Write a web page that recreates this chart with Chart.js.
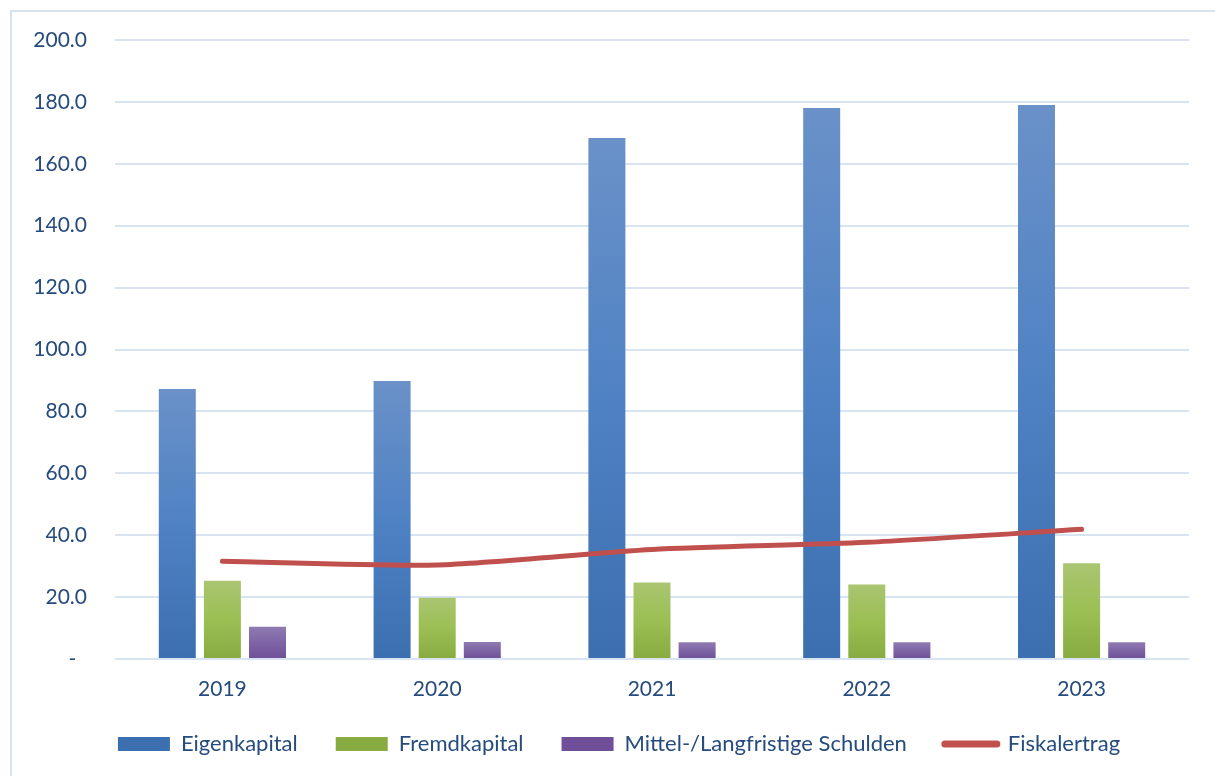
<!DOCTYPE html>
<html>
<head>
<meta charset="utf-8">
<script src="https://cdn.jsdelivr.net/npm/chart.js@4"></script>
<style>
    html, body { margin: 0; padding: 0; background: #fff; overflow: hidden; }
    .frame {
        position: absolute; left: 10px; top: 10px;
        width: 1203px; height: 764px;
        border-left: 2px solid #d6e2f2; border-top: 2px solid #d6e2f2;
    }
</style>
</head>
<body>
<div class="frame"><canvas id="chart" width="1203" height="764"></canvas></div>
<script>
    // chart values
    const years = ['2019', '2020', '2021', '2022', '2023'];
    const eigenkapital = [87.2, 89.8, 168.3, 178.0, 179.0];
    const fremdkapital = [25.3, 19.8, 24.7, 24.1, 30.9];
    const schulden = [10.4, 5.5, 5.4, 5.4, 5.4];
    const fiskalertrag = [31.6, 30.4, 35.4, 37.7, 41.9];

    const textColor = '#264b7d';
    const gridColor = '#d9e4f3';
    const fontFamily = 'Lato, "Open Sans", sans-serif';

    // each bar gets its own light-to-dark gradient, like the Excel original
    function barGradient(stops, flat) {
        return function (ctx) {
            const chart = ctx.chart;
            const y = chart.scales.y;
            if (!chart.chartArea || !y || ctx.type !== 'data') return flat;
            const top = y.getPixelForValue(ctx.raw);
            const bottom = y.getPixelForValue(0);
            if (!isFinite(top) || top === bottom) return flat;
            const g = chart.ctx.createLinearGradient(0, top, 0, bottom);
            g.addColorStop(0, stops[0]);
            g.addColorStop(0.5, stops[1]);
            g.addColorStop(1, stops[2]);
            return g;
        };
    }

    // axes are kept tight so the legend sits where it should; let the labels draw past them
    const unclipLabels = {
        id: 'unclipLabels',
        afterLayout: function (chart) {
            const x = chart.scales.x;
            x.bottom = x.top + 60;
            chart.scales.y.left = 0;
        }
    };

    const ctx = document.getElementById('chart').getContext('2d');
    const chart = new Chart(ctx, {
        type: 'bar',
        data: {
            labels: years,
            datasets: [{
                label: 'Eigenkapital',
                data: eigenkapital,
                backgroundColor: barGradient(['#6a91c8', '#4f82c4', '#3b6fb0'], '#4f7fc0'),
                pointStyle: 'rect',
                order: 1
            }, {
                label: 'Fremdkapital',
                data: fremdkapital,
                backgroundColor: barGradient(['#aac571', '#9bbf53', '#88ab41'], '#9bbf53'),
                pointStyle: 'rect',
                order: 1
            }, {
                label: 'Mittel-/Langfristige Schulden',
                data: schulden,
                backgroundColor: barGradient(['#8f7bb1', '#7e64a6', '#6f4f97'], '#7f65a6'),
                pointStyle: 'rect',
                order: 1
            }, {
                type: 'line',
                label: 'Fiskalertrag',
                data: fiskalertrag,
                borderColor: '#c0504d',
                backgroundColor: '#c0504d',
                borderWidth: 5,
                borderCapStyle: 'round',
                tension: 0.25,
                pointRadius: 0,
                pointHoverRadius: 0,
                pointStyle: 'line',
                order: 0
            }]
        },
        options: {
            responsive: false,
            animation: false,
            categoryPercentage: 0.63,
            barPercentage: 0.82,
            layout: { padding: { left: 37, right: 26, top: 28, bottom: 11 } },
            plugins: {
                tooltip: { enabled: false },
                legend: {
                    position: 'bottom',
                    labels: {
                        color: textColor,
                        font: { family: fontFamily, size: 22 },
                        usePointStyle: true,
                        pointStyleWidth: 52,
                        boxHeight: 14,
                        padding: 38,
                        sort: (a, b) => a.datasetIndex - b.datasetIndex,
                        generateLabels: function (chart) {
                            const items = Chart.defaults.plugins.legend.labels.generateLabels(chart);
                            items.forEach(function (item) {
                                if (item.datasetIndex === 3) {
                                    item.lineWidth = 7;
                                    item.lineCap = 'round';
                                } else {
                                    item.lineWidth = 0;
                                }
                            });
                            return items;
                        }
                    }
                }
            },
            scales: {
                x: {
                    grid: { display: false, drawTicks: false },
                    border: { display: false },
                    ticks: {
                        color: textColor,
                        font: { family: fontFamily, size: 21 },
                        padding: 18
                    },
                    afterFit: function (scale) { scale.height = 36; }
                },
                y: {
                    min: 0,
                    max: 200,
                    grid: { color: gridColor, lineWidth: 2, drawTicks: false },
                    border: { display: false },
                    ticks: {
                        stepSize: 20,
                        color: textColor,
                        font: { family: fontFamily, size: 21 },
                        padding: 28,
                        callback: function (value) {
                            return value === 0 ? '-  ' : value.toFixed(1);
                        }
                    },
                    afterFit: function (scale) {
                        // keep the tick padding from pushing the plot area down
                        scale.width = 66;
                        scale.paddingTop = 0;
                        scale.paddingBottom = 0;
                    }
                }
            }
        },
        plugins: [unclipLabels]
    });
</script>
</body>
</html>
